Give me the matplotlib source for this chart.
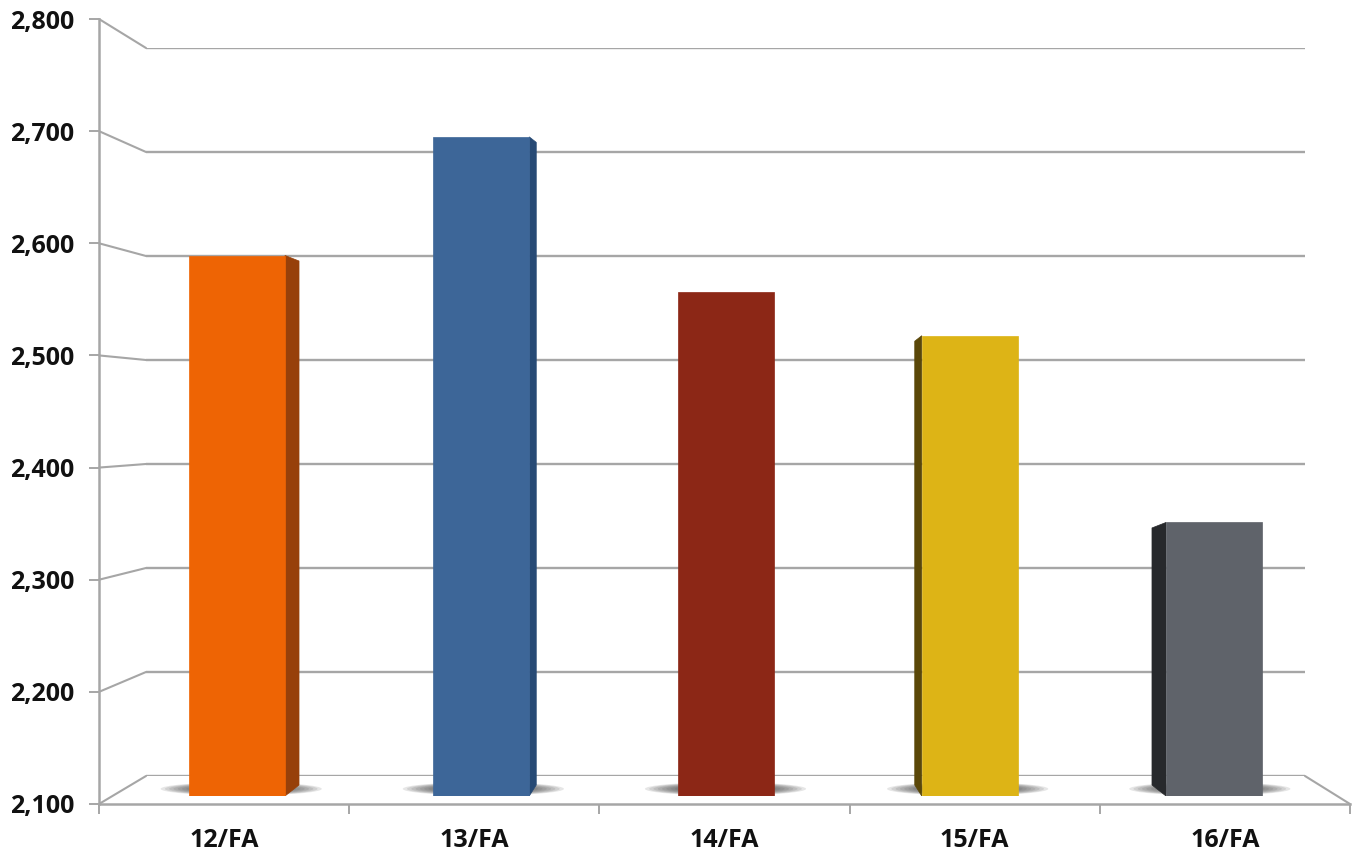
import matplotlib
matplotlib.use('Agg')
import matplotlib.pyplot as plt
from matplotlib.patches import ConnectionPatch, Ellipse, Polygon

categories = ['12/FA', '13/FA', '14/FA', '15/FA', '16/FA']
values = [2592, 2700, 2559, 2519, 2349]
y_ticks = [2100, 2200, 2300, 2400, 2500, 2600, 2700, 2800]
front_colors = ['#EE6404', '#3D6698', '#8C2716', '#DDB416', '#5F636A']
side_colors = ['#97400A', '#274A75', '#8C2716', '#5A4708', '#27292C']

W, H = 1356, 857
GREY = '#A6A6A6'
plt.rcParams['font.family'] = ['Open Sans', 'DejaVu Sans']


def px_axes(fig, left, right, top, bottom, z):
    a = fig.add_axes([left / W, 1 - bottom / H, (right - left) / W, (bottom - top) / H], zorder=z)
    a.patch.set_visible(False)
    return a


fig = plt.figure(figsize=(W / 100, H / 100), dpi=100)

# back wall
wall = px_axes(fig, 146, 1305, 48, 776, 1)
wall.set_xlim(0, 1)
wall.set_ylim(2100, 2800)
wall.axis('off')
wall.hlines(y_ticks, 0, 1, color=GREY, lw=1.7)

# front axis with the labels
ax = px_axes(fig, 99, 1350, 19, 804, 2)
ax.set_xlim(0, 5)
ax.set_ylim(2100, 2800)
for s in ['top', 'right']:
    ax.spines[s].set_visible(False)
for s in ['left', 'bottom']:
    ax.spines[s].set_color(GREY)
    ax.spines[s].set_linewidth(1.8)
ax.set_yticks(y_ticks)
ax.set_yticklabels([f'{v:,}' for v in y_ticks], fontsize=18, fontweight='bold', color='#111111')
ax.set_xticks(range(6))
ax.set_xticklabels([])
ax.set_xticks([i + 0.5 for i in range(5)], minor=True)
ax.set_xticklabels(categories, minor=True, fontsize=18, fontweight='bold', color='#111111')
ax.tick_params(axis='both', which='major', color=GREY, width=1.4, length=7)
ax.tick_params(axis='y', pad=11)
ax.tick_params(axis='x', which='minor', length=0, pad=17)

# wall to front connectors
for v in y_ticks:
    fig.add_artist(ConnectionPatch((0, v), (0, v), coordsA=ax.transData, coordsB=wall.transData,
                                   color=GREY, lw=1.5))
fig.add_artist(ConnectionPatch((5, 2100), (1, 2100), coordsA=ax.transData, coordsB=wall.transData,
                               color=GREY, lw=1.5))

# bars sit on a plane between wall and front
bar_ax = px_axes(fig, 115, 1336, 27, 796, 3)
spacing = 244.25
bar_ax.set_xlim((115 - 237) / spacing, (1336 - 237) / spacing)
bar_ax.set_ylim(2100, 2800)
bar_ax.axis('off')

bar_w = 96 / spacing
for i, (v, fc, sc) in enumerate(zip(values, front_colors, side_colors)):
    dx = (2 - i) * 0.0287
    # floor shadow, soft edge from stacked ellipses
    for k in range(10):
        bar_ax.add_patch(Ellipse((i + dx * 0.3, 2106.5), 0.66 - k * 0.035, 12 - k * 0.7,
                                 fc='#444444', ec='none', alpha=0.13, zorder=1))
    edge = i + bar_w / 2 if dx >= 0 else i - bar_w / 2
    if dx != 0:
        side = Polygon([(edge, v), (edge + dx, v - 5), (edge + dx, 2110), (edge, 2100)],
                       closed=True, fc=sc, ec=sc, lw=0.5, zorder=2)
        bar_ax.add_patch(side)
    bar_ax.bar(i, v - 2100, bottom=2100, width=bar_w, color=fc, edgecolor=fc, lw=0.5, zorder=3)

fig.savefig('out.png', dpi=100)
